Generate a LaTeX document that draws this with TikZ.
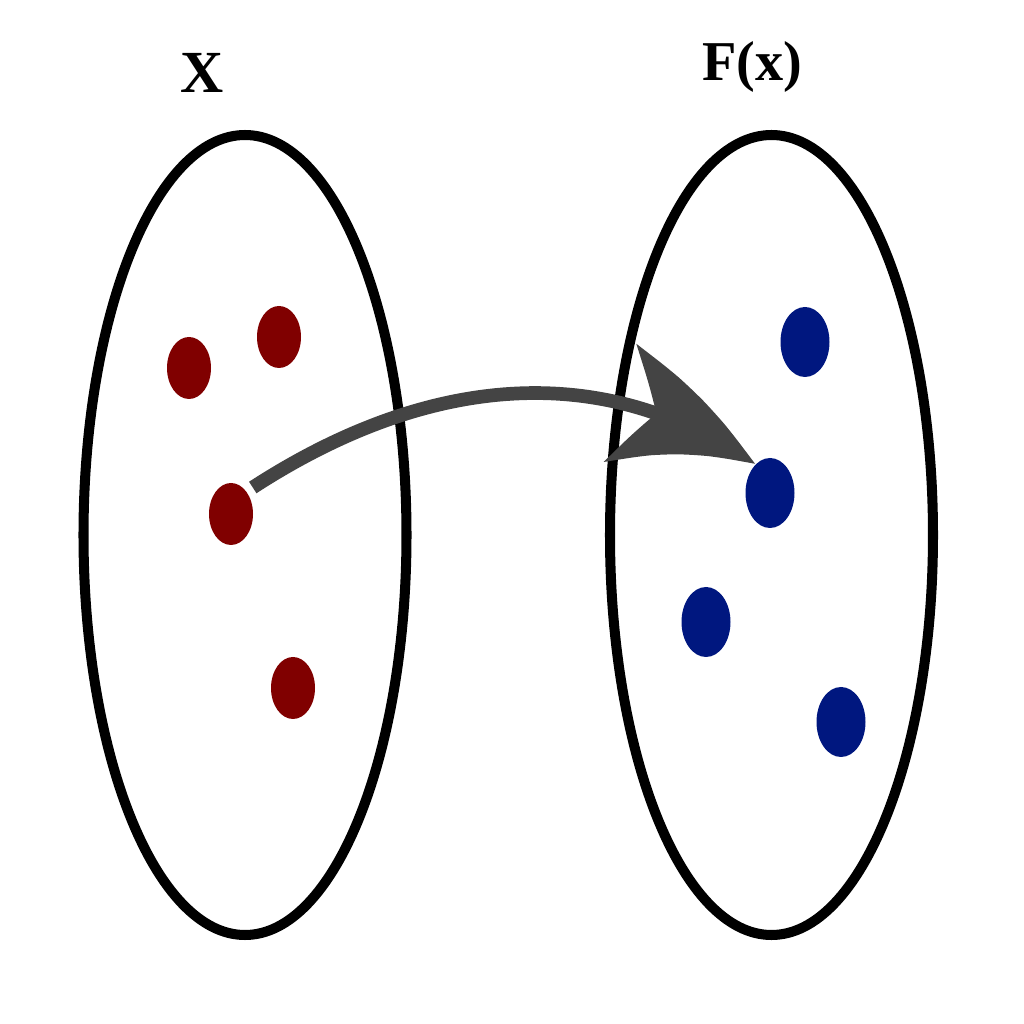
\documentclass[tikz,border=0pt]{standalone}
\usepackage{fontspec}
\setmainfont{Liberation Serif}
\usepackage{xcolor}
\usetikzlibrary{arrows.meta,bending,shapes.geometric}

\definecolor{domred}{RGB}{128,0,0}
\definecolor{codblue}{RGB}{0,23,127}
\definecolor{mapgray}{RGB}{68,68,68}

\begin{document}
\begin{tikzpicture}[
		setbox/.style={ellipse, draw, line width=2.85pt, minimum width=3.23cm, minimum height=8cm, inner sep=0pt},
		dom/.style={ellipse, fill=domred, minimum width=0.44cm, minimum height=0.62cm, inner sep=0pt},
		cod/.style={ellipse, fill=codblue, minimum width=0.49cm, minimum height=0.70cm, inner sep=0pt},
		setlabel/.style={font=\fontsize{17}{20}\selectfont\bfseries, anchor=base, inner sep=0pt}]
		\useasboundingbox (0,0) rectangle (10.24,10.24);
		\node[setbox] (domain)         at (2.45,4.89)  {};
		\node[setbox] (codomain)       at (7.715,4.89) {};
		\node[setlabel] (domain-label)   at (2.02,9.31) {X};
		\node[setlabel, font=\fontsize{16}{19}\selectfont\bfseries] (codomain-label) at (7.52,9.43) {F(x)};
		\node[dom] (x1) at (1.89,6.56) {};
		\node[dom] (x2) at (2.79,6.87) {};
		\node[dom] (x3) at (2.31,5.10) {};
		\node[dom] (x4) at (2.93,3.36) {};
		\node[cod] (y1) at (8.05,6.82) {};
		\node[cod] (y2) at (7.70,5.31) {};
		\node[cod] (y3) at (7.06,4.02) {};
		\node[cod] (y4) at (8.41,3.02) {};
		\draw[mapgray, line width=3.9pt, shorten <=2pt,
			-{Stealth[length=15.5mm, width=12mm, inset=4mm, bend]}]
			(x3.55) to[out=33, in=145, out distance=2.1cm, in distance=1.9cm] (y2.118);
	\end{tikzpicture}
\end{document}
